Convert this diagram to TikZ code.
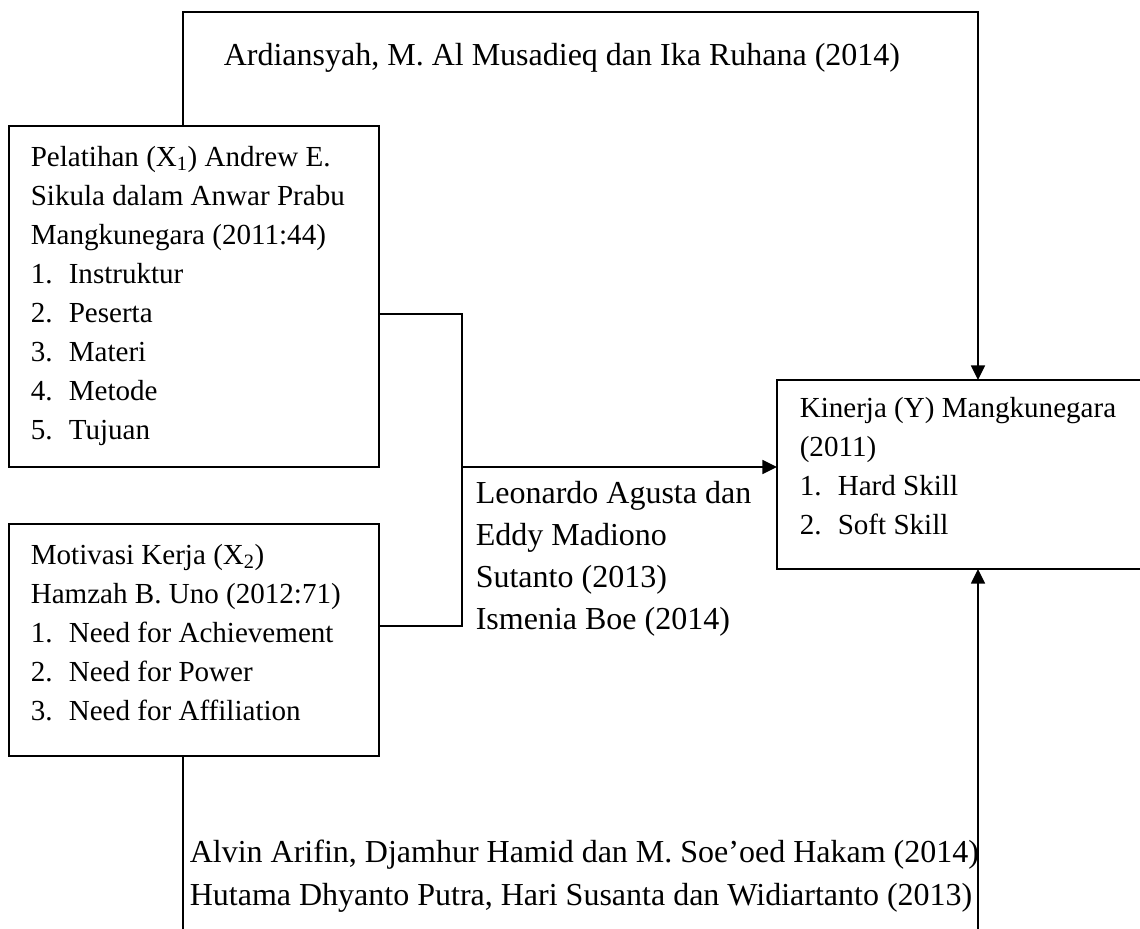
\documentclass[tikz,border=0pt]{standalone}
\usepackage{fontspec}
\setmainfont{Liberation Serif}
\usetikzlibrary{arrows.meta,fit}
\newcommand\stk[2]{\vtop{\baselineskip=#1\relax\lineskip=0pt\lineskiplimit=-1000pt\halign{##\hfil\cr#2\crcr}}}
\newcommand\itm[2]{\makebox[28.5pt][l]{#1}#2}
\begin{document}
\begin{tikzpicture}[x=0.75pt,y=-0.75pt,line width=1.2pt,
  box/.style={draw,inner sep=0pt,outer sep=0pt},
  boxtxt/.style={anchor=base west,inner sep=0pt,font=\fontsize{21.8}{29.25}\selectfont},
  lbl/.style={anchor=base west,inner sep=0pt,font=\fontsize{24}{31.5}\selectfont},
  arr/.style={-{Triangle[length=11pt,width=10.5pt]}}]
\useasboundingbox (0,0) rectangle (1140,929);
% boxes
\node[box,fit={(9,126)(379,467)}] (b1) {};
\node[box,fit={(9,524)(379,756)}] (b2) {};
\node[box,fit={(777,380)(1143,569)}] (ky) {};
% box texts
\node[boxtxt] (t1) at (30,166) {\stk{29.25pt}{Pelatihan (X\textsubscript{1}) Andrew E.\cr
Sikula dalam Anwar Prabu\cr
Mangkunegara (2011:44)\cr
\itm{1.}{Instruktur}\cr
\itm{2.}{Peserta}\cr
\itm{3.}{Materi}\cr
\itm{4.}{Metode}\cr
\itm{5.}{Tujuan}}};
\node[boxtxt] (t2) at (30,564) {\stk{29.25pt}{Motivasi Kerja (X\textsubscript{2})\cr
Hamzah B. Uno (2012:71)\cr
\itm{1.}{Need for Achievement}\cr
\itm{2.}{Need for Power}\cr
\itm{3.}{Need for Affiliation}}};
\node[boxtxt] (t3) at (799,417) {\stk{29.25pt}{Kinerja (Y) Mangkunegara\cr
(2011)\cr
\itm{1.}{Hard Skill}\cr
\itm{2.}{Soft Skill}}};
% connector labels
\node[lbl] (l1) at (223,65) {Ardiansyah, M. Al Musadieq dan Ika Ruhana (2014)};
\node[lbl] (l2) at (475,503) {\stk{31.5pt}{Leonardo Agusta dan\cr
Eddy Madiono\cr
Sutanto (2013)\cr
Ismenia Boe (2014)}};
\node[lbl] (l3) at (189,862) {\stk{32.25pt}{Alvin Arifin, Djamhur Hamid dan M. Soe’oed Hakam (2014)\cr
Hutama Dhyanto Putra, Hari Susanta dan Widiartanto (2013)}};
% connector points
\coordinate (tl) at (183,12);
\coordinate (tr) at (978,12);
\coordinate (j1) at (462,314);
\coordinate (j2) at (462,626);
\coordinate (jm) at (462,467);
\coordinate (bl) at (183,930);
\coordinate (br) at (978,930);
% connectors
\draw[arr] (b1.north -| tl) -- (tl) -- (tr) -- (ky.north -| tr);
\draw (b1.east |- j1) -- (j1) -- (j2) -- (b2.east |- j2);
\draw[arr] (jm) -- (ky.west |- jm);
\draw (b2.south -| bl) -- (bl);
\draw[arr] (br) -- (ky.south -| br);
\end{tikzpicture}
\end{document}
